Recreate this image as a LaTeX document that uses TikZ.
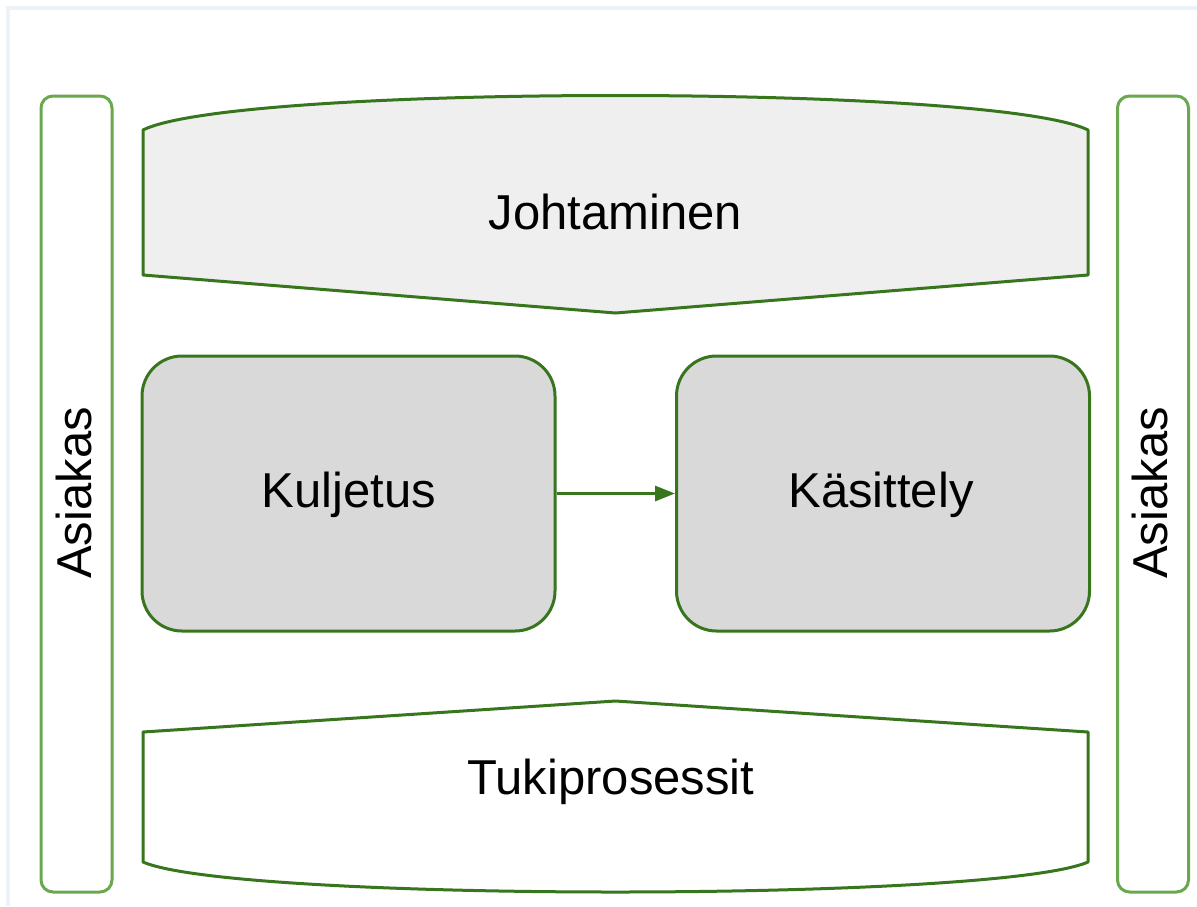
\documentclass[tikz,border=0pt]{standalone}
\usepackage{fontspec}
\setmainfont{Liberation Sans}
\usetikzlibrary{arrows.meta}
\definecolor{darkgreen}{HTML}{38761D}
\definecolor{lightgreen}{HTML}{6AA84F}
\definecolor{panelgray}{HTML}{EFEFEF}
\definecolor{boxgray}{HTML}{D9D9D9}
\definecolor{framegray}{HTML}{EDF1F8}
\tikzset{
  label text/.style={font=\fontsize{49}{58}\selectfont, text=black, inner sep=0pt},
  sidebar/.style={draw=lightgreen, line width=3pt, rounded corners=12pt, fill=white,
    minimum width=71pt, minimum height=796pt},
  sidebar text/.style={label text, rotate=90},
  processbox/.style={draw=darkgreen, line width=3pt, rounded corners=40pt, fill=boxgray,
    minimum width=413pt, minimum height=275pt, label text},
  banner/.style={draw=darkgreen, line width=3pt, line join=round},
  flow/.style={draw=darkgreen, line width=3pt, -{Triangle[length=20pt,width=15pt]}},
  frameline/.style={draw=framegray, line width=4pt}
}
\begin{document}
\begin{tikzpicture}[x=1pt,y=-1pt]
  \useasboundingbox (0,0) rectangle (1197,906);
  \fill[white] (0,0) rectangle (1197,906);
  % light outer frame
  \draw[frameline] (8,906) -- (8,8) -- (1197,8);

  % customer bars on both sides
  \node[sidebar] (custL) at (76.5,494) {};
  \node[sidebar text] (custLtext) at (73.5,493) {Asiakas};
  \node[sidebar] (custR) at (1153,494) {};
  \node[sidebar text] (custRtext) at (1150,493) {Asiakas};

  % management banner pointing down
  \draw[banner, fill=panelgray]
    (143,130) .. controls (235,84) and (996,84) .. (1088,130)
    -- (1088,275) -- (615.5,313) -- (143,275) -- cycle;
  \node[label text] (mgmt) at (615.5,212) {Johtaminen};

  % support processes banner pointing up
  \draw[banner, fill=white]
    (143,732) -- (615.5,701) -- (1088,732) -- (1088,862)
    .. controls (996,902) and (235,902) .. (143,862) -- cycle;
  \node[label text] (support) at (611,781.5) {Tukiprosessit};

  % core process steps
  \node[processbox] (transport) at (348.5,493.5) {};
  \node[label text] (transportText) at (349,495) {Kuljetus};
  \node[processbox] (handling) at (883,493.5) {};
  \node[label text] (handlingText) at (881,495) {Käsittely};
  \draw[flow] (transport.east) -- (handling.west);
\end{tikzpicture}
\end{document}
